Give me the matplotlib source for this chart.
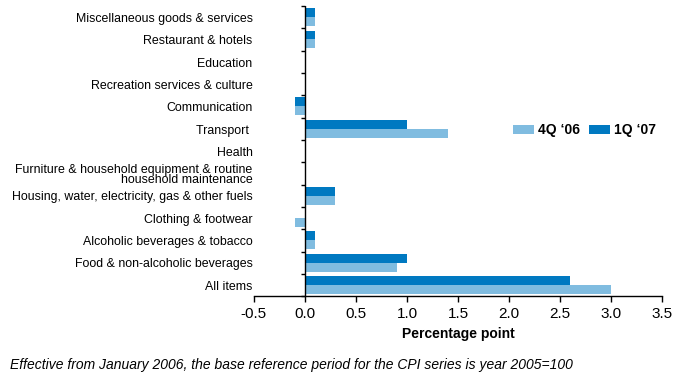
import numpy as np
import matplotlib
matplotlib.use('Agg')
import matplotlib.pyplot as plt
import matplotlib.transforms as mtransforms

plt.rcParams['font.family'] = ['Liberation Sans', 'DejaVu Sans']

categories = ['All items',
              'Food & non-alcoholic beverages',
              'Alcoholic beverages & tobacco',
              'Clothing & footwear',
              'Housing, water, electricity, gas & other fuels',
              'Furniture & household equipment & routine\nhousehold maintenance',
              'Health',
              'Transport ',
              'Communication',
              'Recreation services & culture',
              'Education',
              'Restaurant & hotels',
              'Miscellaneous goods & services']
q4_06 = [3.0, 0.9, 0.1, -0.1, 0.3, 0.0, 0.0, 1.4, -0.1, 0.0, 0.0, 0.1, 0.1]
q1_07 = [2.6, 1.0, 0.1, 0.0, 0.3, 0.0, 0.0, 1.0, -0.1, 0.0, 0.0, 0.1, 0.1]
xticks = [-0.5, 0.0, 0.5, 1.0, 1.5, 2.0, 2.5, 3.0, 3.5]

light = '#80BCE0'
dark = '#0079C1'

fig = plt.figure(figsize=(6.75, 3.73), dpi=100)
ax = fig.add_axes([0.376, 0.206, 0.605, 0.778])

y = np.arange(len(categories))
h = 0.4
ax.barh(y - h / 2, q4_06, height=h, color=light, label='4Q \u201806')
ax.barh(y + h / 2, q1_07, height=h, color=dark, label='1Q \u201807')

ax.set_xlim(-0.5, 3.5)
ax.set_ylim(-0.5, len(categories) - 0.5)
ax.set_xticks(xticks)
ax.set_xticklabels(['%.1f' % v for v in xticks], fontsize=11)
ax.tick_params(axis='x', direction='out', length=4, width=1, pad=4)
ax.set_yticks([])

for s in ['top', 'right', 'left']:
    ax.spines[s].set_visible(False)
ax.spines['bottom'].set_linewidth(1)

# vertical axis at zero with ticks between categories
ax.axvline(0, color='black', lw=1, zorder=3)
bounds = np.arange(len(categories) + 1) - 0.5
tick_len = 0.035
ax.hlines(bounds, -tick_len, 0, color='black', lw=1, clip_on=False, zorder=3)

# category labels to the left of the axes
trans = mtransforms.blended_transform_factory(ax.transAxes, ax.transData)
for yi, lab in zip(y, categories):
    ax.text(-0.003, yi - 0.08, lab, transform=trans, ha='right', va='center',
            fontsize=8.9, linespacing=0.85, multialignment='right')

ax.set_xlabel('Percentage point', fontsize=10, fontweight='bold', labelpad=4)

ax.legend(loc='center', bbox_to_anchor=(0.81, 0.572), ncol=2, frameon=False,
          prop={'weight': 'bold', 'size': 10}, handlelength=1.5, handleheight=0.65,
          columnspacing=0.7, handletextpad=0.25)

fig.text(0.015, 0.01, 'Effective from January 2006, the base reference period for the CPI series is year 2005=100',
         fontsize=10, style='italic')

fig.savefig('out.png', dpi=100)
